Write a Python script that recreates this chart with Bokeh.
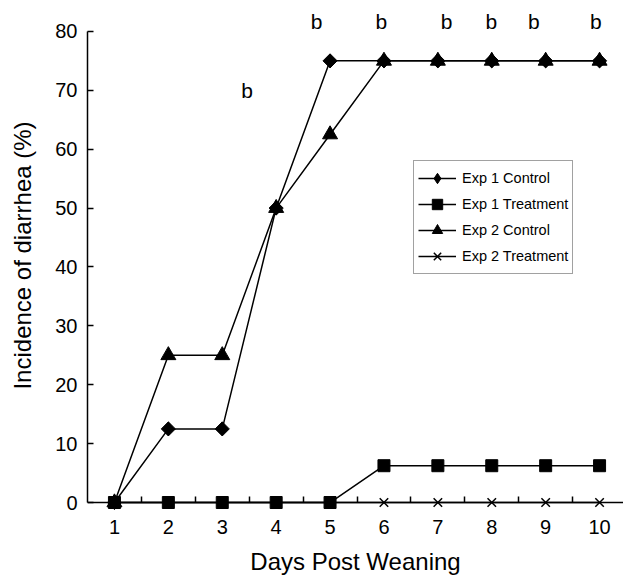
import math
from bokeh.plotting import figure
from bokeh.models import Range1d, FixedTicker, Legend, LegendItem, LinearAxis
from bokeh.embed import file_html
from bokeh.resources import INLINE
from bokeh.core.properties import value

# ---- data ----
days = [1, 2, 3, 4, 5, 6, 7, 8, 9, 10]
exp1_control = [0, 12.5, 12.5, 50, 75, 75, 75, 75, 75, 75]
exp1_treatment = [0, 0, 0, 0, 0, 6.25, 6.25, 6.25, 6.25, 6.25]
exp2_control = [0, 25, 25, 50, 62.5, 75, 75, 75, 75, 75]
exp2_treatment = [0, 0, 0, 0, 0, 0, 0, 0, 0, 0]
y_ticks = [0, 10, 20, 30, 40, 50, 60, 70, 80]
sig_x = [3.46, 4.75, 5.95, 7.16, 7.99, 8.78, 9.93]
sig_y = [70.0, 81.6, 81.6, 81.6, 81.6, 81.6, 81.6]
sig_text = ["b", "b", "b", "b", "b", "b", "b"]

FONT = "Liberation Sans"

p = figure(width=623, height=577,
           x_range=Range1d(0.5, 10.444), y_range=Range1d(-1.356, 85.25),
           output_backend="svg", toolbar_location=None,
           min_border_left=87, min_border_right=0,
           min_border_top=0, min_border_bottom=66)
p.outline_line_color = None
p.xgrid.visible = False
p.ygrid.visible = False
p.background_fill_color = "white"
p.border_fill_color = "white"

# x axis line with boundary ticks, fixed at y = 0
xa = p.xaxis[0]
xa.fixed_location = 0
xa.ticker = FixedTicker(ticks=[], minor_ticks=[d + 0.5 for d in days[:-1]])
xa.major_tick_in = 0
xa.major_tick_out = 0
xa.minor_tick_in = 6
xa.minor_tick_out = 0
xa.minor_tick_line_color = "black"
xa.minor_tick_line_width = 1.5
xa.axis_line_color = "black"
xa.axis_line_width = 1.5
xa.major_label_text_font_size = "0px"

# x axis for labels (below the frame)
xl = LinearAxis(ticker=FixedTicker(ticks=days, minor_ticks=[]))
xl.axis_line_color = None
xl.major_tick_line_color = None
xl.minor_tick_line_color = None
xl.major_tick_in = 0
xl.major_tick_out = 0
xl.major_label_text_font = FONT
xl.major_label_text_font_size = "20px"
xl.major_label_text_color = "black"
xl.major_label_standoff = 9
xl.axis_label = "Days Post Weaning"
xl.axis_label_text_font = FONT
xl.axis_label_text_font_size = "24px"
xl.axis_label_text_font_style = "normal"
xl.axis_label_text_color = "black"
xl.axis_label_standoff = 11
p.add_layout(xl, "below")

# y axis
ya = p.yaxis[0]
ya.bounds = (0, 80)
ya.ticker = FixedTicker(ticks=y_ticks, minor_ticks=[])
ya.major_tick_in = 6
ya.major_tick_out = 0
ya.major_tick_line_width = 1.5
ya.major_tick_line_color = "black"
ya.minor_tick_in = 0
ya.minor_tick_out = 0
ya.axis_line_color = "black"
ya.axis_line_width = 1.5
ya.major_label_text_font = FONT
ya.major_label_text_font_size = "20px"
ya.major_label_text_color = "black"
ya.major_label_standoff = 10
ya.axis_label = "Incidence of diarrhea (%)"
ya.axis_label_text_font = FONT
ya.axis_label_text_font_size = "24px"
ya.axis_label_text_font_style = "normal"
ya.axis_label_text_color = "black"
ya.axis_label_standoff = 16

LW = 1.5
# draw order: Exp 2 Treatment, Exp 1 Control, Exp 2 Control, Exp 1 Treatment
l4 = p.line(days, exp2_treatment, line_color="black", line_width=LW)
m4 = p.scatter(days, exp2_treatment, marker="x", size=12, line_color="black", line_width=1.5)

l1 = p.line(days, exp1_control, line_color="black", line_width=LW)
# upright diamond (used as the legend swatch, since legends ignore marker angle)
d1 = p.scatter(days, exp1_control, marker="diamond", size=13,
               fill_color="black", line_color="black", line_width=1)
m1 = p.scatter(days, exp1_control, marker="square", size=10, angle=math.pi / 4,
               fill_color="black", line_color="black", line_width=1)

l3 = p.line(days, exp2_control, line_color="black", line_width=LW)
m3 = p.scatter(days, exp2_control, marker="triangle", size=15,
               fill_color="black", line_color="black", line_width=1)

l2 = p.line(days, exp1_treatment, line_color="black", line_width=LW)
m2 = p.scatter(days, exp1_treatment, marker="square", size=12,
               fill_color="black", line_color="black", line_width=1)

p.text(sig_x, sig_y, text=sig_text, text_font=value(FONT), text_font_size="21px",
       text_align="center", text_baseline="alphabetic", text_color="black")

legend = Legend(items=[
    LegendItem(label="Exp 1 Control", renderers=[l1, d1]),
    LegendItem(label="Exp 1 Treatment", renderers=[l2, m2]),
    LegendItem(label="Exp 2 Control", renderers=[l3, m3]),
    LegendItem(label="Exp 2 Treatment", renderers=[l4, m4]),
], location=(326, 236))
legend.label_text_font = FONT
legend.label_text_font_size = "14.5px"
legend.label_text_color = "black"
legend.glyph_width = 38
legend.glyph_height = 26
legend.label_height = 26
legend.label_standoff = 6
legend.spacing = 0
legend.padding = 4
legend.margin = 0
legend.border_line_color = "#444444"
legend.border_line_width = 1
legend.background_fill_color = "white"
legend.background_fill_alpha = 1
p.add_layout(legend, "center")

open("out.html", "w").write(file_html(p, INLINE))
